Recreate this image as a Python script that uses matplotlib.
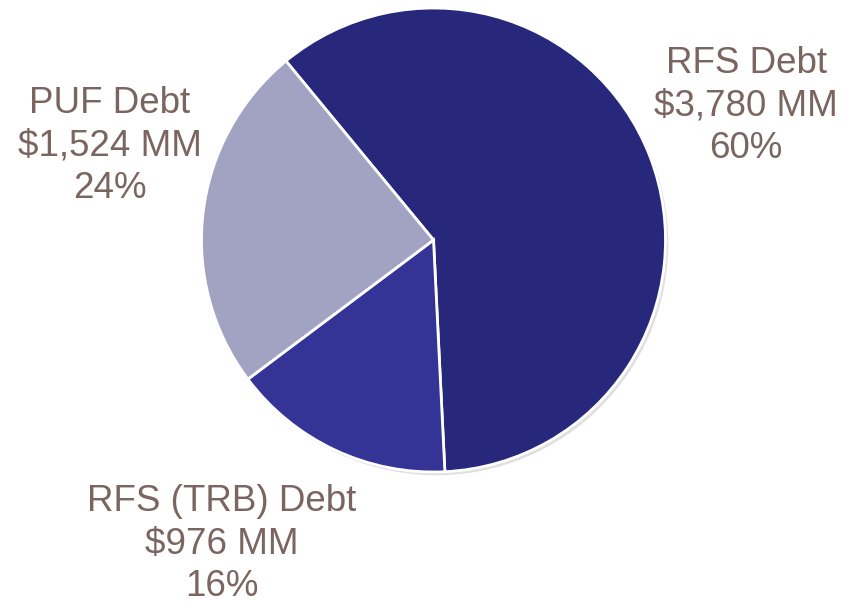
import matplotlib
matplotlib.use("Agg")
import matplotlib.pyplot as plt
from matplotlib.patches import Circle

categories = ["RFS Debt", "RFS (TRB) Debt", "PUF Debt"]
values = [3780, 976, 1524]
pct_labels = ["60%", "16%", "24%"]
colors = ["#27277B", "#343496", "#A2A3C3"]

W, H = 857, 604
cx, cy, R = 433.5, 240, 232

fig = plt.figure(figsize=(W / 100, H / 100), dpi=100)
ax = fig.add_axes([0, 0, 1, 1])

# subtle shadow
ax.add_patch(Circle((0.012, -0.014), 1.0, color="#000000", alpha=0.12, zorder=0, lw=0))

wedges, _ = ax.pie(values, colors=colors, startangle=129.5, counterclock=False,
                   radius=1.0, center=(0, 0),
                   wedgeprops=dict(edgecolor="white", linewidth=2))
for w in wedges:
    w.set_zorder(2)

ax.set_xlim(-cx / R, (W - cx) / R)
ax.set_ylim(-(H - cy) / R, cy / R)
ax.set_aspect("equal")
ax.axis("off")

text_pos = {  # pixel positions of label centers
    "RFS Debt": (746, 106),
    "RFS (TRB) Debt": (222, 544),
    "PUF Debt": (110, 146),
}
for cat, v, p in zip(categories, values, pct_labels):
    px, py = text_pos[cat]
    ax.text((px - cx) / R, (cy - py) / R, f"{cat}\n${v:,} MM\n{p}",
            ha="center", va="center", fontsize=26.5, color="#7A6560",
            family="Liberation Sans", linespacing=1.27, zorder=3)

fig.savefig("out.png", dpi=100)
